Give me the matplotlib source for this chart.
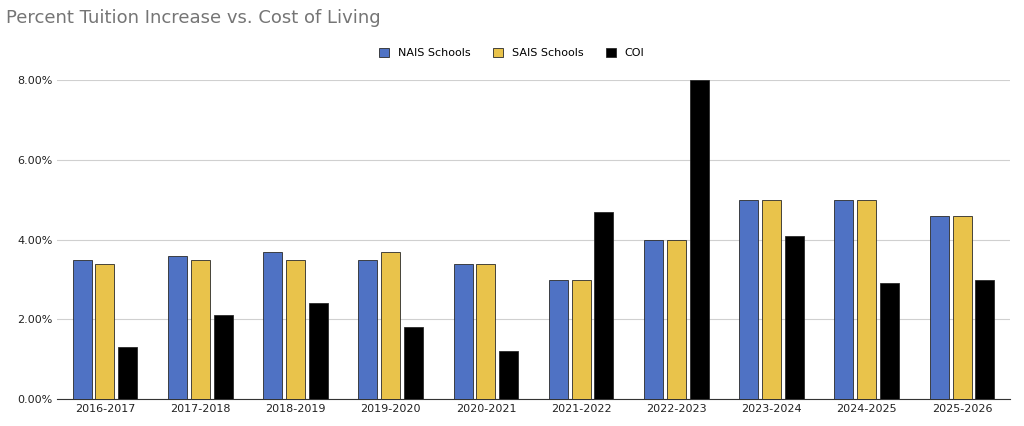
import matplotlib.pyplot as plt
import numpy as np
from matplotlib.ticker import FuncFormatter

years = ["2016-2017","2017-2018","2018-2019","2019-2020","2020-2021","2021-2022","2022-2023","2023-2024","2024-2025","2025-2026"]
nais = [3.5,3.6,3.7,3.5,3.4,3.0,4.0,5.0,5.0,4.6]
sais = [3.4,3.5,3.5,3.7,3.4,3.0,4.0,5.0,5.0,4.6]
coi = [1.3,2.1,2.4,1.8,1.2,4.7,8.0,4.1,2.9,3.0]

fig = plt.figure(figsize=(10.24,4.26), dpi=100)
ax = fig.add_axes([0.056,0.063,0.93,0.749])
x = np.arange(len(years))
w = 0.2
ax.bar(x-0.24, nais, w, color='#4f72c4', edgecolor='#2a2a2a', linewidth=0.6, label='NAIS Schools', zorder=3)
ax.bar(x, sais, w, color='#e9c34b', edgecolor='#2a2a2a', linewidth=0.6, label='SAIS Schools', zorder=3)
ax.bar(x+0.24, coi, w, color='#000000', edgecolor='#2a2a2a', linewidth=0.6, label='COI', zorder=3)
ax.set_ylim(0,8)
ax.set_yticks([0,2,4,6,8])
ax.yaxis.set_major_formatter(FuncFormatter(lambda v,p: f"{v:.2f}%"))
ax.set_xlim(-0.5,9.5)
ax.set_xticks(x)
ax.set_xticklabels(years)
ax.grid(axis='y', color='#d0d0d0', linewidth=0.8, zorder=0)
for s in ['top','right','left']:
    ax.spines[s].set_visible(False)
ax.spines['bottom'].set_color('#333333')
ax.tick_params(length=0, labelsize=8, colors='#222222')
fig.text(0.006,0.945,'Percent Tuition Increase vs. Cost of Living', fontsize=13, color='#757575')
fig.legend(loc='center', bbox_to_anchor=(0.5,0.875), ncol=3, frameon=False, fontsize=8,
           handlelength=0.9, handleheight=0.9, columnspacing=2.0)
fig.savefig('out.png', dpi=100)
